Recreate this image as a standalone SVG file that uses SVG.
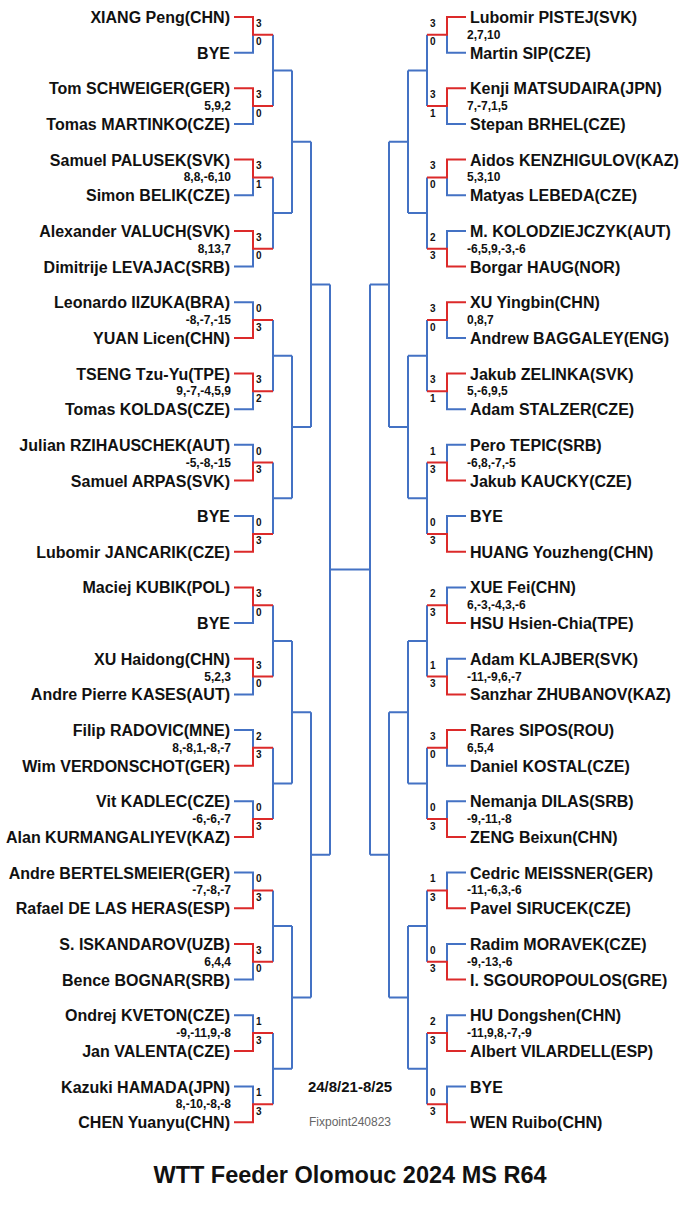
<svg xmlns="http://www.w3.org/2000/svg" width="700" height="1212" viewBox="0 0 700 1212">
<style>
.n{font-family:"Liberation Sans",Arial,sans-serif;font-weight:bold;font-size:16px;fill:#111}
.l{text-anchor:end}
.g{font-family:"Liberation Sans",Arial,sans-serif;font-weight:bold;font-size:12px;fill:#111}
.s{font-family:"Liberation Sans",Arial,sans-serif;font-weight:bold;font-size:10px;fill:#111}
.b{fill:none;stroke:#4472c4;stroke-width:2}
.r{fill:none;stroke:#dc2a2a;stroke-width:2}
</style>
<rect width="700" height="1212" fill="#fff"/>
<g id="connectors">
<path class="b" d="M234 52.7H253V34.8M234 124H253V106.1M234 195.3H253V177.4M234 266.6H253V248.7M234 302.2H253V320M234 409.2H253V391.3M234 444.8H253V462.6M234 516.1H253V533.9M234 623.1H253V605.2M234 694.4H253V676.5M234 730H253V747.8M234 801.3H253V819.1M234 872.6H253V890.4M234 979.6H253V961.7M234 1015.2H253V1033M234 1086.5H253V1104.3"/>
<path class="b" d="M273 34.8V106.1M273 177.4V248.7M273 320V391.3M273 462.6V533.9M273 605.2V676.5M273 747.8V819.1M273 890.4V961.7M273 1033V1104.3M273 70.5H292M273 213.1H292M273 355.7H292M273 498.3H292M273 640.9H292M273 783.5H292M273 926.1H292M273 1068.7H292M292 70.5V213.1M292 355.7V498.3M292 640.9V783.5M292 926.1V1068.7M292 141.8H311M292 427H311M292 712.2H311M292 997.4H311M311 141.8V427M311 712.2V997.4M311 284.4H330M311 854.8H330M330 284.4V854.8M330 569.6H370"/>
<path class="b" d="M466 52.7H447V34.8M466 124H447V106.1M466 195.3H447V177.4M466 230.9H447V248.7M466 337.9H447V320M466 409.2H447V391.3M466 444.8H447V462.6M466 516.1H447V533.9M466 587.4H447V605.2M466 658.7H447V676.5M466 765.7H447V747.8M466 801.3H447V819.1M466 872.6H447V890.4M466 943.9H447V961.7M466 1015.2H447V1033M466 1086.5H447V1104.3"/>
<path class="b" d="M427 34.8V106.1M427 177.4V248.7M427 320V391.3M427 462.6V533.9M427 605.2V676.5M427 747.8V819.1M427 890.4V961.7M427 1033V1104.3M427 70.5H408M427 213.1H408M427 355.7H408M427 498.3H408M427 640.9H408M427 783.5H408M427 926.1H408M427 1068.7H408M408 70.5V213.1M408 355.7V498.3M408 640.9V783.5M408 926.1V1068.7M408 141.8H389M408 427H389M408 712.2H389M408 997.4H389M389 141.8V427M389 712.2V997.4M389 284.4H370M389 854.8H370M370 284.4V854.8"/>
<path class="r" d="M234 17H253V34.8H273M234 88.3H253V106.1H273M234 159.6H253V177.4H273M234 230.9H253V248.7H273M234 337.9H253V320H273M234 373.5H253V391.3H273M234 480.5H253V462.6H273M234 551.8H253V533.9H273M234 587.4H253V605.2H273M234 658.7H253V676.5H273M234 765.7H253V747.8H273M234 837H253V819.1H273M234 908.3H253V890.4H273M234 943.9H253V961.7H273M234 1050.9H253V1033H273M234 1122.2H253V1104.3H273"/>
<path class="r" d="M466 17H447V34.8H427M466 88.3H447V106.1H427M466 159.6H447V177.4H427M466 266.6H447V248.7H427M466 302.2H447V320H427M466 373.5H447V391.3H427M466 480.5H447V462.6H427M466 551.8H447V533.9H427M466 623.1H447V605.2H427M466 694.4H447V676.5H427M466 730H447V747.8H427M466 837H447V819.1H427M466 908.3H447V890.4H427M466 979.6H447V961.7H427M466 1050.9H447V1033H427M466 1122.2H447V1104.3H427"/>
</g>
<g id="L1"><text class="n l" x="230" y="23">XIANG Peng(CHN)</text><text class="n l" x="230" y="58.7">BYE</text><text class="s" x="256" y="26.8">3</text><text class="s" x="256" y="45.3">0</text></g>
<g id="L2"><text class="n l" x="230" y="94.3">Tom SCHWEIGER(GER)</text><text class="n l" x="230" y="130">Tomas MARTINKO(CZE)</text><text class="g l" x="231" y="110.1">5,9,2</text><text class="s" x="256" y="98.1">3</text><text class="s" x="256" y="116.6">0</text></g>
<g id="L3"><text class="n l" x="230" y="165.6">Samuel PALUSEK(SVK)</text><text class="n l" x="230" y="201.3">Simon BELIK(CZE)</text><text class="g l" x="231" y="181.4">8,8,-6,10</text><text class="s" x="256" y="169.4">3</text><text class="s" x="256" y="187.9">1</text></g>
<g id="L4"><text class="n l" x="230" y="236.9">Alexander VALUCH(SVK)</text><text class="n l" x="230" y="272.6">Dimitrije LEVAJAC(SRB)</text><text class="g l" x="231" y="252.7">8,13,7</text><text class="s" x="256" y="240.7">3</text><text class="s" x="256" y="259.2">0</text></g>
<g id="L5"><text class="n l" x="230" y="308.2">Leonardo IIZUKA(BRA)</text><text class="n l" x="230" y="343.9">YUAN Licen(CHN)</text><text class="g l" x="231" y="324">-8,-7,-15</text><text class="s" x="256" y="312">0</text><text class="s" x="256" y="330.5">3</text></g>
<g id="L6"><text class="n l" x="230" y="379.5">TSENG Tzu-Yu(TPE)</text><text class="n l" x="230" y="415.2">Tomas KOLDAS(CZE)</text><text class="g l" x="231" y="395.3">9,-7,-4,5,9</text><text class="s" x="256" y="383.3">3</text><text class="s" x="256" y="401.8">2</text></g>
<g id="L7"><text class="n l" x="230" y="450.8">Julian RZIHAUSCHEK(AUT)</text><text class="n l" x="230" y="486.5">Samuel ARPAS(SVK)</text><text class="g l" x="231" y="466.6">-5,-8,-15</text><text class="s" x="256" y="454.6">0</text><text class="s" x="256" y="473.1">3</text></g>
<g id="L8"><text class="n l" x="230" y="522.1">BYE</text><text class="n l" x="230" y="557.8">Lubomir JANCARIK(CZE)</text><text class="s" x="256" y="525.9">0</text><text class="s" x="256" y="544.4">3</text></g>
<g id="L9"><text class="n l" x="230" y="593.4">Maciej KUBIK(POL)</text><text class="n l" x="230" y="629.1">BYE</text><text class="s" x="256" y="597.2">3</text><text class="s" x="256" y="615.7">0</text></g>
<g id="L10"><text class="n l" x="230" y="664.7">XU Haidong(CHN)</text><text class="n l" x="230" y="700.4">Andre Pierre KASES(AUT)</text><text class="g l" x="231" y="680.5">5,2,3</text><text class="s" x="256" y="668.5">3</text><text class="s" x="256" y="687">0</text></g>
<g id="L11"><text class="n l" x="230" y="736">Filip RADOVIC(MNE)</text><text class="n l" x="230" y="771.7">Wim VERDONSCHOT(GER)</text><text class="g l" x="231" y="751.8">8,-8,1,-8,-7</text><text class="s" x="256" y="739.8">2</text><text class="s" x="256" y="758.3">3</text></g>
<g id="L12"><text class="n l" x="230" y="807.3">Vit KADLEC(CZE)</text><text class="n l" x="230" y="843">Alan KURMANGALIYEV(KAZ)</text><text class="g l" x="231" y="823.1">-6,-6,-7</text><text class="s" x="256" y="811.1">0</text><text class="s" x="256" y="829.6">3</text></g>
<g id="L13"><text class="n l" x="230" y="878.6">Andre BERTELSMEIER(GER)</text><text class="n l" x="230" y="914.3">Rafael DE LAS HERAS(ESP)</text><text class="g l" x="231" y="894.4">-7,-8,-7</text><text class="s" x="256" y="882.4">0</text><text class="s" x="256" y="900.9">3</text></g>
<g id="L14"><text class="n l" x="230" y="949.9">S. ISKANDAROV(UZB)</text><text class="n l" x="230" y="985.6">Bence BOGNAR(SRB)</text><text class="g l" x="231" y="965.7">6,4,4</text><text class="s" x="256" y="953.7">3</text><text class="s" x="256" y="972.2">0</text></g>
<g id="L15"><text class="n l" x="230" y="1021.2">Ondrej KVETON(CZE)</text><text class="n l" x="230" y="1056.9">Jan VALENTA(CZE)</text><text class="g l" x="231" y="1037">-9,-11,9,-8</text><text class="s" x="256" y="1025">1</text><text class="s" x="256" y="1043.5">3</text></g>
<g id="L16"><text class="n l" x="230" y="1092.5">Kazuki HAMADA(JPN)</text><text class="n l" x="230" y="1128.2">CHEN Yuanyu(CHN)</text><text class="g l" x="231" y="1108.3">8,-10,-8,-8</text><text class="s" x="256" y="1096.3">1</text><text class="s" x="256" y="1114.8">3</text></g>
<g id="R1"><text class="n" x="470" y="23">Lubomir PISTEJ(SVK)</text><text class="n" x="470" y="58.7">Martin SIP(CZE)</text><text class="g" x="467" y="38.8">2,7,10</text><text class="s" x="430" y="26.8">3</text><text class="s" x="430" y="45.3">0</text></g>
<g id="R2"><text class="n" x="470" y="94.3">Kenji MATSUDAIRA(JPN)</text><text class="n" x="470" y="130">Stepan BRHEL(CZE)</text><text class="g" x="467" y="110.1">7,-7,1,5</text><text class="s" x="430" y="98.1">3</text><text class="s" x="430" y="116.6">1</text></g>
<g id="R3"><text class="n" x="470" y="165.6">Aidos KENZHIGULOV(KAZ)</text><text class="n" x="470" y="201.3">Matyas LEBEDA(CZE)</text><text class="g" x="467" y="181.4">5,3,10</text><text class="s" x="430" y="169.4">3</text><text class="s" x="430" y="187.9">0</text></g>
<g id="R4"><text class="n" x="470" y="236.9">M. KOLODZIEJCZYK(AUT)</text><text class="n" x="470" y="272.6">Borgar HAUG(NOR)</text><text class="g" x="467" y="252.7">-6,5,9,-3,-6</text><text class="s" x="430" y="240.7">2</text><text class="s" x="430" y="259.2">3</text></g>
<g id="R5"><text class="n" x="470" y="308.2">XU Yingbin(CHN)</text><text class="n" x="470" y="343.9">Andrew BAGGALEY(ENG)</text><text class="g" x="467" y="324">0,8,7</text><text class="s" x="430" y="312">3</text><text class="s" x="430" y="330.5">0</text></g>
<g id="R6"><text class="n" x="470" y="379.5">Jakub ZELINKA(SVK)</text><text class="n" x="470" y="415.2">Adam STALZER(CZE)</text><text class="g" x="467" y="395.3">5,-6,9,5</text><text class="s" x="430" y="383.3">3</text><text class="s" x="430" y="401.8">1</text></g>
<g id="R7"><text class="n" x="470" y="450.8">Pero TEPIC(SRB)</text><text class="n" x="470" y="486.5">Jakub KAUCKY(CZE)</text><text class="g" x="467" y="466.6">-6,8,-7,-5</text><text class="s" x="430" y="454.6">1</text><text class="s" x="430" y="473.1">3</text></g>
<g id="R8"><text class="n" x="470" y="522.1">BYE</text><text class="n" x="470" y="557.8">HUANG Youzheng(CHN)</text><text class="s" x="430" y="525.9">0</text><text class="s" x="430" y="544.4">3</text></g>
<g id="R9"><text class="n" x="470" y="593.4">XUE Fei(CHN)</text><text class="n" x="470" y="629.1">HSU Hsien-Chia(TPE)</text><text class="g" x="467" y="609.2">6,-3,-4,3,-6</text><text class="s" x="430" y="597.2">2</text><text class="s" x="430" y="615.7">3</text></g>
<g id="R10"><text class="n" x="470" y="664.7">Adam KLAJBER(SVK)</text><text class="n" x="470" y="700.4">Sanzhar ZHUBANOV(KAZ)</text><text class="g" x="467" y="680.5">-11,-9,6,-7</text><text class="s" x="430" y="668.5">1</text><text class="s" x="430" y="687">3</text></g>
<g id="R11"><text class="n" x="470" y="736">Rares SIPOS(ROU)</text><text class="n" x="470" y="771.7">Daniel KOSTAL(CZE)</text><text class="g" x="467" y="751.8">6,5,4</text><text class="s" x="430" y="739.8">3</text><text class="s" x="430" y="758.3">0</text></g>
<g id="R12"><text class="n" x="470" y="807.3">Nemanja DILAS(SRB)</text><text class="n" x="470" y="843">ZENG Beixun(CHN)</text><text class="g" x="467" y="823.1">-9,-11,-8</text><text class="s" x="430" y="811.1">0</text><text class="s" x="430" y="829.6">3</text></g>
<g id="R13"><text class="n" x="470" y="878.6">Cedric MEISSNER(GER)</text><text class="n" x="470" y="914.3">Pavel SIRUCEK(CZE)</text><text class="g" x="467" y="894.4">-11,-6,3,-6</text><text class="s" x="430" y="882.4">1</text><text class="s" x="430" y="900.9">3</text></g>
<g id="R14"><text class="n" x="470" y="949.9">Radim MORAVEK(CZE)</text><text class="n" x="470" y="985.6">I. SGOUROPOULOS(GRE)</text><text class="g" x="467" y="965.7">-9,-13,-6</text><text class="s" x="430" y="953.7">0</text><text class="s" x="430" y="972.2">3</text></g>
<g id="R15"><text class="n" x="470" y="1021.2">HU Dongshen(CHN)</text><text class="n" x="470" y="1056.9">Albert VILARDELL(ESP)</text><text class="g" x="467" y="1037">-11,9,8,-7,-9</text><text class="s" x="430" y="1025">2</text><text class="s" x="430" y="1043.5">3</text></g>
<g id="R16"><text class="n" x="470" y="1092.5">BYE</text><text class="n" x="470" y="1128.2">WEN Ruibo(CHN)</text><text class="s" x="430" y="1096.3">0</text><text class="s" x="430" y="1114.8">3</text></g>
<g id="info">
<text x="350" y="1092" text-anchor="middle" font-family="Liberation Sans,Arial,sans-serif" font-weight="bold" font-size="15" fill="#111">24/8/21-8/25</text>
<text x="350" y="1126" text-anchor="middle" font-family="Liberation Sans,Arial,sans-serif" font-size="12" fill="#666">Fixpoint240823</text>
<text x="350" y="1183" text-anchor="middle" font-family="Liberation Sans,Arial,sans-serif" font-weight="bold" font-size="23.5" fill="#111">WTT Feeder Olomouc 2024 MS R64</text>
</g>
</svg>
